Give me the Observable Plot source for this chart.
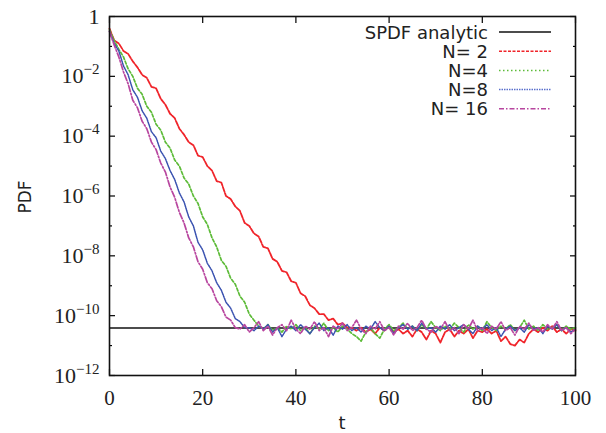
<!DOCTYPE html>
<html><head><meta charset="utf-8">
<script src="https://cdn.jsdelivr.net/npm/d3@7"></script>
<script src="https://cdn.jsdelivr.net/npm/@observablehq/plot@0.6"></script>
<style>body{margin:0;background:#fff}</style>
</head><body><div id="chart"></div>
<script>
// time grid (t = 0..100, step 1)
const t = d3.range(0, 101);

// log10(PDF)
const logN2 = [
 -0.4,-0.8,-0.9,-1.15,-1.25,-1.5,-1.7,-1.95,-2.05,-2.35,
 -2.4,-2.75,-2.95,-3.25,-3.4,-3.75,-3.95,-4.2,-4.3,-4.65,
 -4.7,-5.0,-5.15,-5.5,-5.55,-6.0,-6.1,-6.35,-6.5,-6.9,
 -7.0,-7.25,-7.35,-7.7,-7.75,-8.1,-8.2,-8.5,-8.55,-8.85,
 -8.9,-9.25,-9.35,-9.65,-9.75,-9.95,-9.95,-10.15,-10.1,-10.3,
 -10.25,-10.4,-10.4,-10.5,-10.4,-10.55,-10.45,-10.6,-10.4,-10.5,
 -10.35,-10.55,-10.45,-10.6,-10.5,-10.7,-10.45,-10.55,-10.8,-10.5,
 -10.6,-10.9,-10.55,-10.45,-10.7,-10.5,-10.6,-10.45,-10.75,-10.5,
 -10.55,-10.45,-10.6,-10.5,-10.85,-10.7,-10.95,-11.0,-10.8,-10.9,
 -10.6,-10.45,-10.55,-10.4,-10.5,-10.35,-10.55,-10.45,-10.6,-10.45,
 -10.5];
const logN4 = [
 -0.45,-0.8,-1.1,-1.35,-1.75,-2.0,-2.4,-2.6,-3.0,-3.2,
 -3.6,-3.8,-4.2,-4.4,-4.8,-5.0,-5.4,-5.6,-6.0,-6.25,
 -6.7,-6.95,-7.4,-7.7,-8.15,-8.35,-8.75,-8.95,-9.35,-9.55,
 -9.95,-10.15,-10.35,-10.45,-10.3,-10.5,-10.4,-10.55,-10.35,-10.45,
 -10.3,-10.5,-10.4,-10.6,-10.35,-10.45,-10.25,-10.5,-10.4,-10.55,
 -10.35,-10.45,-10.6,-10.7,-10.85,-10.55,-10.4,-10.6,-10.75,-10.45,
 -10.3,-10.5,-10.4,-10.25,-10.45,-10.35,-10.5,-10.3,-10.45,-10.2,
 -10.4,-10.5,-10.35,-10.45,-10.25,-10.4,-10.55,-10.3,-10.45,-10.35,
 -10.5,-10.2,-10.4,-10.5,-10.35,-10.45,-10.3,-10.5,-10.4,-10.15,
 -10.45,-10.35,-10.5,-10.3,-10.45,-10.4,-10.3,-10.5,-10.35,-10.45,
 -10.4];
const logN8 = [
 -0.5,-0.9,-1.15,-1.65,-1.95,-2.45,-2.7,-3.15,-3.4,-3.85,
 -4.05,-4.5,-4.75,-5.15,-5.45,-5.9,-6.2,-6.7,-7.0,-7.55,
 -7.8,-8.25,-8.5,-8.9,-9.15,-9.55,-9.75,-10.1,-10.2,-10.4,
 -10.4,-10.5,-10.35,-10.45,-10.3,-10.55,-10.4,-10.7,-10.45,-10.35,
 -10.5,-10.3,-10.45,-10.6,-10.4,-10.25,-10.5,-10.4,-10.65,-10.35,
 -10.45,-10.3,-10.5,-10.4,-10.55,-10.35,-10.45,-10.2,-10.4,-10.5,
 -10.35,-10.6,-10.4,-10.3,-10.45,-10.35,-10.5,-10.25,-10.45,-10.4,
 -10.55,-10.35,-10.45,-10.3,-10.5,-10.4,-10.3,-10.45,-10.6,-10.35,
 -10.45,-10.3,-10.5,-10.4,-10.7,-10.45,-10.35,-10.5,-10.4,-10.55,
 -10.3,-10.45,-10.4,-10.6,-10.35,-10.45,-10.3,-10.5,-10.4,-10.55,
 -10.45];
const logN16 = [
 -0.5,-0.95,-1.35,-1.85,-2.25,-2.8,-3.05,-3.5,-3.75,-4.2,
 -4.45,-4.9,-5.2,-5.7,-6.05,-6.55,-6.9,-7.4,-7.7,-8.2,
 -8.45,-8.9,-9.1,-9.5,-9.7,-10.05,-10.15,-10.4,-10.45,-10.3,
 -10.55,-10.4,-10.2,-10.5,-10.35,-10.65,-10.4,-10.3,-10.5,-10.15,
 -10.45,-10.6,-10.35,-10.45,-10.2,-10.5,-10.4,-10.7,-10.35,-10.45,
 -10.25,-10.5,-10.4,-10.15,-10.45,-10.6,-10.35,-10.45,-10.2,-10.5,
 -10.4,-10.65,-10.35,-10.45,-10.25,-10.5,-10.4,-10.15,-10.45,-10.55,
 -10.35,-10.45,-10.2,-10.5,-10.4,-10.6,-10.3,-10.45,-10.15,-10.5,
 -10.4,-10.6,-10.35,-10.45,-10.2,-10.5,-10.4,-10.65,-10.35,-10.45,
 -10.25,-10.5,-10.4,-10.55,-10.3,-10.45,-10.2,-10.5,-10.4,-10.6,
 -10.45];

// analytic SPDF level (log10)
const logAnalytic = -10.41;

const seriesNames = ["N= 2", "N=4", "N=8", "N= 16"];
const seriesColors = ["#f0242a", "#5dbb38", "#3a52b0", "#b8469f"];
const seriesDash = ["5,1.5", "3,2", "1.3,1", "6,2,1.5,2"];
const seriesWidth = [1.8, 1.7, 1.5, 1.7];
const seriesLogs = [logN2, logN4, logN8, logN16];

const xTicks = [0, 20, 40, 60, 80, 100];
const yMajorExp = [0, -2, -4, -6, -8, -10, -12];
const yMinorExp = [-1, -3, -5, -7, -9, -11];

const rows = [];
seriesLogs.forEach((arr, k) => arr.forEach((v, i) => rows.push({t: t[i], pdf: Math.pow(10, v), name: seriesNames[k]})));

const serif = "'Liberation Serif', 'DejaVu Serif', serif";
const sans = "'DejaVu Sans', sans-serif";
const yMajor = yMajorExp.map(e => Math.pow(10, e));
const yMinor = yMinorExp.map(e => Math.pow(10, e));
const fmtY = d => { const e = Math.round(Math.log10(d)); return e === 0 ? "1" : "10^" + e; };

const plot = Plot.plot({
  width: 606, height: 433,
  marginLeft: 109, marginRight: 31, marginTop: 16, marginBottom: 58,
  style: {background: "#fff", overflow: "visible"},
  x: {domain: [0, 100]},
  y: {type: "log", domain: [1e-12, 1]},
  marks: [
    Plot.ruleY([Math.pow(10, logAnalytic)], {stroke: "#111", strokeWidth: 1.4}),
    ...seriesNames.map((n, k) => Plot.line(rows.filter(r => r.name === n), {
      x: "t", y: "pdf", stroke: seriesColors[k], strokeWidth: seriesWidth[k], strokeDasharray: seriesDash[k]
    })),
    Plot.axisX({anchor: "bottom", ticks: xTicks, tickSize: 0, tickPadding: 15, fontSize: 21, fontFamily: serif, label: null, color: "#222"}),
    Plot.axisX({anchor: "bottom", ticks: xTicks, tickSize: -6, tickFormat: () => "", label: null, strokeWidth: 1.2}),
    Plot.axisX({anchor: "top", ticks: xTicks, tickSize: -6, tickFormat: () => "", label: null, strokeWidth: 1.2}),
    Plot.axisY({anchor: "left", ticks: yMajor, tickSize: 0, tickPadding: 10, tickFormat: fmtY, fontSize: 22, fontFamily: serif, label: null, color: "#222"}),
    Plot.axisY({anchor: "left", ticks: yMajor, tickSize: -6, tickFormat: () => "", label: null, strokeWidth: 1.2}),
    Plot.axisY({anchor: "left", ticks: yMinor, tickSize: -3, tickFormat: () => "", label: null, strokeWidth: 1.2}),
    Plot.axisY({anchor: "right", ticks: yMajor, tickSize: -6, tickFormat: () => "", label: null, strokeWidth: 1.2}),
    Plot.axisY({anchor: "right", ticks: yMinor, tickSize: -3, tickFormat: () => "", label: null, strokeWidth: 1.2}),
    Plot.frame({stroke: "#111", strokeWidth: 1.6})
  ]
});
document.getElementById("chart").appendChild(plot);

const svg = d3.select(plot);
// superscript exponents on y tick labels
svg.selectAll("text").each(function() {
  const s = this.textContent;
  const m = /^10\^(-?\d+)$/.exec(s);
  if (!m) return;
  const el = d3.select(this);
  el.text("");
  el.append("tspan").text("10");
  el.append("tspan").attr("dy", "-9").attr("font-size", "15px").text(m[1].replace("-", "\u2212"));
});

// axis titles
svg.append("text").attr("transform", "translate(31,197) rotate(-90)")
  .attr("text-anchor", "middle").attr("font-family", sans).attr("font-size", 17).attr("fill", "#222").text("PDF");
svg.append("text").attr("x", 342).attr("y", 429)
  .attr("text-anchor", "middle").attr("font-family", sans).attr("font-size", 18).attr("fill", "#222").text("t");

// legend
const legNames = ["SPDF analytic", ...seriesNames];
const legColors = ["#111", "#f0242a", "#5dbb38", "#5a70cc", "#b8469f"];
const legDash = [null, "3,1.5", "1.5,2.5", "1.5,1", "5,2,1.5,2"];
const leg = svg.append("g");
legNames.forEach((n, i) => {
  const cy = 32 + i * 19.2;
  leg.append("text").attr("x", 488).attr("y", cy + 6.5).attr("text-anchor", "end")
    .attr("font-family", sans).attr("font-size", 18).attr("fill", "#222").text(n);
  leg.append("line").attr("x1", 499).attr("x2", 551).attr("y1", cy).attr("y2", cy)
    .attr("stroke", legColors[i]).attr("stroke-width", i === 0 ? 1.4 : 1.5)
    .attr("stroke-dasharray", legDash[i]);
});
</script>
</body></html>
